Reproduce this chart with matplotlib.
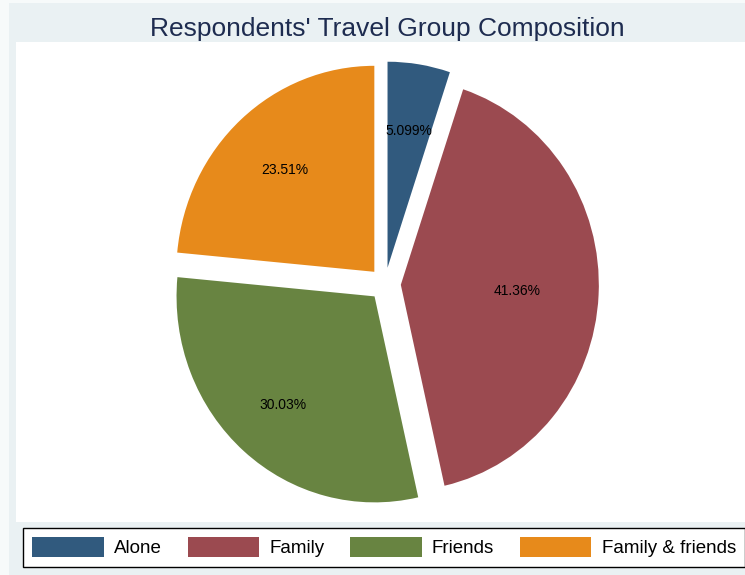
import matplotlib
matplotlib.use("Agg")

import matplotlib.pyplot as plt
import numpy as np
from matplotlib.patches import Rectangle

groups = ["Alone", "Family", "Friends", "Family & friends"]
shares = [5.099, 41.36, 30.03, 23.51]
share_labels = ["5.099%", "41.36%", "30.03%", "23.51%"]
colors = ["#315A7E", "#9B4A50", "#688441", "#E78A1B"]

W, H = 745, 575
plt.rcParams["font.family"] = ["Liberation Sans", "DejaVu Sans"]

fig = plt.figure(figsize=(W / 100, H / 100), dpi=100)
fig.patch.set_facecolor("#F7FAFA")

def px_box(x0, y0, x1, y1):
    # pixel box (top-left origin) -> figure fraction [left, bottom, w, h]
    return [x0 / W, 1 - y1 / H, (x1 - x0) / W, (y1 - y0) / H]

# outer graph region and white plot region
l, b, w, h = px_box(9, 3, 760, 590)
fig.patches.append(Rectangle((l, b), w, h, transform=fig.transFigure,
                             facecolor="#EAF1F3", edgecolor="none", zorder=-2))
l, b, w, h = px_box(16, 42, 760, 522)
fig.patches.append(Rectangle((l, b), w, h, transform=fig.transFigure,
                             facecolor="white", edgecolor="none", zorder=-1))

fig.text(387 / W, 1 - 29 / H, "Respondents' Travel Group Composition",
         ha="center", va="center", fontsize=19, color="#1E2C50")

# pie axes: centre at (385, 284) px, radius ~198 px wide / 206 px tall
cx, cy, rx, ry = 385, 284, 198, 206
ax = fig.add_axes(px_box(16, 42, 745, 522), zorder=2)
ax.set_axis_off()
wedges, _ = ax.pie(shares, colors=colors, startangle=90, counterclock=False,
                   explode=[0.08] * len(shares),
                   wedgeprops=dict(linewidth=0))
ax.set_aspect("auto")
ax.set_xlim((16 - cx) / rx, (745 - cx) / rx)
ax.set_ylim((cy - 522) / ry, (cy - 42) / ry)

label_r = [0.67, 0.59, 0.70, 0.67]
angle = 90.0
for wdg, pct, txt, r in zip(wedges, shares, share_labels, label_r):
    mid = np.deg2rad(angle - pct * 3.6 / 2)
    angle -= pct * 3.6
    ox, oy = wdg.center
    ax.text(ox + r * np.cos(mid), oy + r * np.sin(mid), txt,
            ha="center", va="center", fontsize=10, color="black")

leg = fig.legend(wedges, groups, ncol=4, loc="upper left",
                 bbox_to_anchor=(23 / W, 1 - 528 / H), fontsize=13.5,
                 frameon=True, fancybox=False, framealpha=1, borderaxespad=0,
                 handlelength=3.8, handleheight=1.2, handletextpad=0.55,
                 columnspacing=1.38, borderpad=0.5)
leg.set_zorder(3)
leg.get_frame().set_edgecolor("black")
leg.get_frame().set_linewidth(1.0)
leg.get_frame().set_facecolor("white")

fig.savefig("out.png", dpi=100, facecolor=fig.get_facecolor())
